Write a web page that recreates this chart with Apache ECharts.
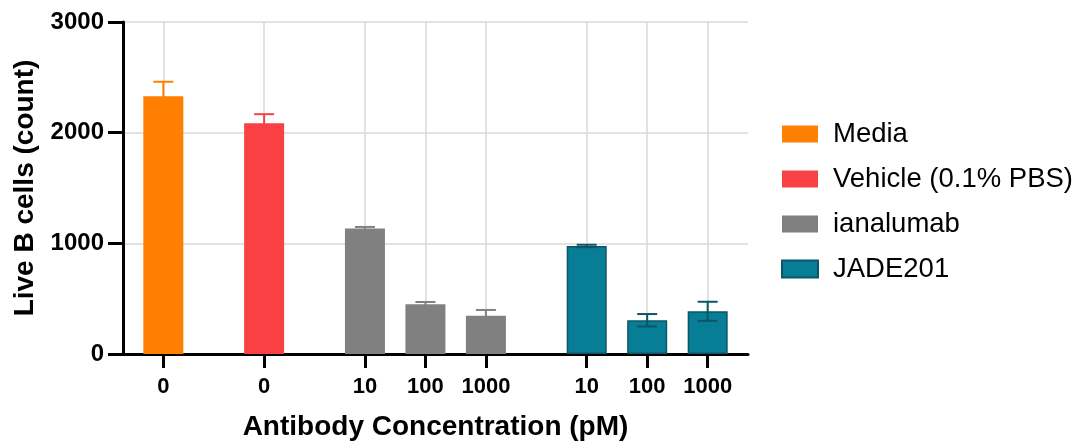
<!DOCTYPE html>
<html><head><meta charset="utf-8">
<script src="https://cdn.jsdelivr.net/npm/echarts@6/dist/echarts.min.js"></script>
<style>html,body{margin:0;padding:0;background:#fff}#c{width:1081px;height:441px}</style>
</head><body><div id="c"></div>
<script>
// ---- data ----
const slotCount = 32;                       // category slots along the x axis
const barSlots = [2, 7, 12, 15, 18, 23, 26, 29];
const tickLabels = ['0', '0', '10', '100', '1000', '10', '100', '1000'];
const seriesNames = ['Media', 'Vehicle (0.1% PBS)', 'ianalumab', 'JADE201'];
const mediaSlots = [2];            const mediaValues = [2330];             const mediaErrors = [130];
const vehicleSlots = [7];          const vehicleValues = [2085];           const vehicleErrors = [82];
const ianalumabSlots = [12, 15, 18]; const ianalumabValues = [1133, 450, 345]; const ianalumabErrors = [15, 20, 53];
const jadeSlots = [23, 26, 29];    const jadeValues = [976, 305, 386];     const jadeErrors = [11, 56, 86];
const yTicks = [0, 1000, 2000, 3000];

const FONT = 'Liberation Sans, Arial, Helvetica, sans-serif';
const categories = Array.from({length: slotCount}, (_, i) => String(i));
const labelOf = {};
barSlots.forEach((s, i) => { labelOf[s] = tickLabels[i]; });
const isBarSlot = (idx) => labelOf[idx] !== undefined;

const groups = [
  {name: seriesNames[0], slots: mediaSlots, values: mediaValues, errs: mediaErrors, fill: '#FF8000', border: '#FF8000', err: '#FF8000', bw: 0},
  {name: seriesNames[1], slots: vehicleSlots, values: vehicleValues, errs: vehicleErrors, fill: '#F94144', border: '#F94144', err: '#F94144', bw: 0},
  {name: seriesNames[2], slots: ianalumabSlots, values: ianalumabValues, errs: ianalumabErrors, fill: '#808080', border: '#808080', err: '#808080', bw: 0},
  {name: seriesNames[3], slots: jadeSlots, values: jadeValues, errs: jadeErrors, fill: '#087E96', border: '#0B5566', err: '#0B5566', bw: 1.5}
];

const series = [];
groups.forEach(g => {
  series.push({
    name: g.name, type: 'bar', barWidth: 40, barGap: '-100%',
    itemStyle: {color: g.fill, borderColor: g.border, borderWidth: g.bw},
    data: g.slots.map((s, i) => [s, g.values[i]]),
    z: 2
  });
});
groups.forEach(g => {
  series.push({
    type: 'custom', name: g.name + ' err', z: 5,
    data: g.slots.map((s, i) => [s, g.values[i] - g.errs[i], g.values[i] + g.errs[i]]),
    encode: {x: 0, y: [1, 2]},
    renderItem: function (params, api) {
      const lo = api.coord([api.value(0), api.value(1)]);
      const hi = api.coord([api.value(0), api.value(2)]);
      const hw = 10;
      const st = {stroke: g.err, lineWidth: 2};
      return {type: 'group', children: [
        {type: 'line', shape: {x1: hi[0], y1: hi[1], x2: lo[0], y2: lo[1]}, style: st},
        {type: 'line', shape: {x1: hi[0] - hw, y1: hi[1], x2: hi[0] + hw, y2: hi[1]}, style: st},
        {type: 'line', shape: {x1: lo[0] - hw, y1: lo[1], x2: lo[0] + hw, y2: lo[1]}, style: st}
      ]};
    }
  });
});

const chart = echarts.init(document.getElementById('c'), null, {renderer: 'canvas'});
chart.setOption({
  animation: false,
  backgroundColor: '#fff',
  grid: {left: 123, right: 333, top: 22, bottom: 87, containLabel: false, outerBoundsMode: 'none'},
  legend: {
    orient: 'vertical', left: 776, top: 115, icon: 'rect',
    itemWidth: 36, itemHeight: 17, itemGap: 17,
    data: seriesNames,
    textStyle: {fontFamily: FONT, fontSize: 27.5, lineHeight: 27, color: '#000', padding: [0, 0, 0, 10]}
  },
  xAxis: {
    type: 'category', data: categories, boundaryGap: false,
    name: 'Antibody Concentration (pM)', nameLocation: 'middle', nameGap: 59,
    nameTextStyle: {fontFamily: FONT, fontSize: 28, fontWeight: 'bold', color: '#000'},
    axisLine: {show: true, lineStyle: {color: '#000', width: 3}},
    axisTick: {show: true, length: 14, lineStyle: {color: '#000', width: 3},
      interval: (idx) => isBarSlot(idx)},
    axisLabel: {interval: (idx) => isBarSlot(idx), formatter: (v, idx) => labelOf[idx] || '',
      fontFamily: FONT, fontSize: 22, fontWeight: 'bold', color: '#000', margin: 22},
    splitLine: {show: true, interval: (idx) => isBarSlot(idx), lineStyle: {color: '#d9d9d9', width: 1.5}}
  },
  yAxis: {
    type: 'value', min: yTicks[0], max: yTicks[yTicks.length - 1], interval: yTicks[1] - yTicks[0],
    name: 'Live B cells (count)', nameLocation: 'middle', nameGap: 80,
    nameTextStyle: {fontFamily: FONT, fontSize: 28, fontWeight: 'bold', color: '#000'},
    axisLine: {show: true, lineStyle: {color: '#000', width: 3}},
    axisTick: {show: true, length: 15, lineStyle: {color: '#000', width: 3}},
    axisLabel: {fontFamily: FONT, fontSize: 24, fontWeight: 'bold', color: '#000', margin: 19,
      formatter: (v) => String(v)},
    splitLine: {show: true, lineStyle: {color: '#d9d9d9', width: 1.5}}
  },
  series: series
});
</script></body></html>
